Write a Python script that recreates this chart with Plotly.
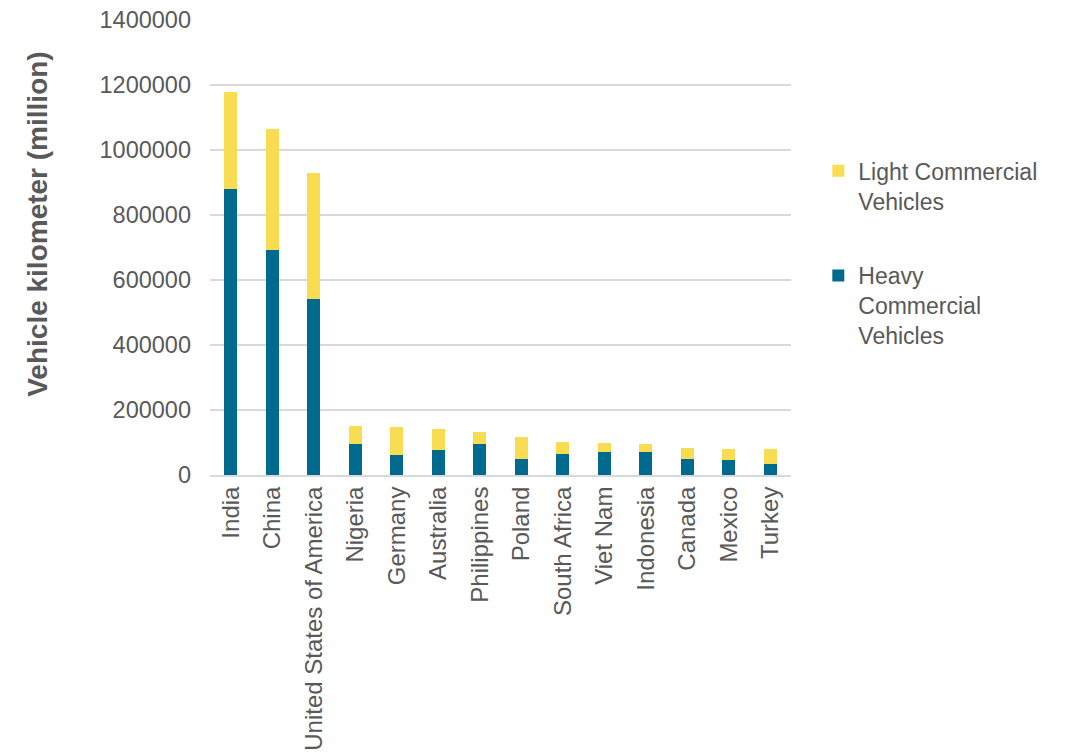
import plotly.graph_objects as go

countries = ["India", "China", "United States of America", "Nigeria", "Germany",
             "Australia", "Philippines", "Poland", "South Africa", "Viet Nam",
             "Indonesia", "Canada", "Mexico", "Turkey"]
heavy = [881000, 693000, 543000, 95000, 61500, 77000, 95000, 48000, 64500,
         71000, 70000, 48000, 46000, 33000]
light = [296500, 371000, 385000, 56000, 87000, 65500, 37500, 70000, 37000,
         28500, 25500, 35000, 34000, 47000]
y_ticks = [0, 200000, 400000, 600000, 800000, 1000000, 1200000, 1400000]

BLUE = "#006a8e"
YELLOW = "#f8dd52"
GREY = "#595959"
FONT = "Liberation Sans, Arial, sans-serif"

fig = go.Figure()
fig.add_trace(go.Bar(x=countries, y=heavy, name="Heavy<br>Commercial<br>Vehicles",
                     marker=dict(color=BLUE, line=dict(width=0)),
                     legendgroup="hcv", legendrank=2))
fig.add_trace(go.Bar(x=countries, y=light, name="Light Commercial<br>Vehicles",
                     marker=dict(color=YELLOW, line=dict(width=0)),
                     legendgroup="lcv", legendrank=1))

fig.update_layout(
    barmode="stack",
    bargap=0.68,
    width=1071, height=756,
    margin=dict(l=210, r=280, t=20, b=281),
    paper_bgcolor="white", plot_bgcolor="white",
    font=dict(family=FONT, color=GREY, size=24),
    legend=dict(x=1.047, y=0.716, xanchor="left", yanchor="top",
                traceorder="grouped", valign="top", tracegroupgap=42,
                font=dict(size=23, color=GREY), itemwidth=30),
    showlegend=True,
    annotations=[dict(text="<b>Vehicle kilometer (million)</b>", textangle=-90,
                      xref="paper", yref="paper", x=-0.296, y=0.55,
                      xanchor="center", yanchor="middle", showarrow=False,
                      font=dict(size=28, color=GREY, family=FONT))],
)
fig.update_xaxes(tickangle=-90, showline=True, linecolor="#d9d9d9", linewidth=2,
                 ticks="", automargin=False, tickfont=dict(size=24, color=GREY))
fig.update_yaxes(range=[0, 1400000], tickvals=y_ticks, ticktext=[str(v) for v in y_ticks],
                 showgrid=True, gridcolor="#d9d9d9", gridwidth=1.5, zeroline=False,
                 ticks="", automargin=False, ticklabelstandoff=18,
                 tickfont=dict(size=23.5, color=GREY))

fig.write_html("out.html")
